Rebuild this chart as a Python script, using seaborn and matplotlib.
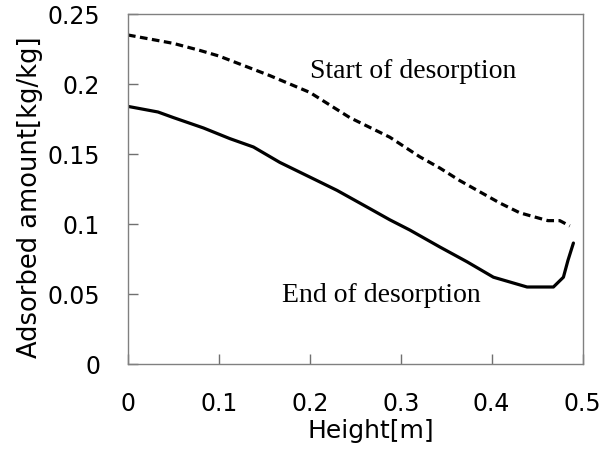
import matplotlib
matplotlib.use("Agg")
import matplotlib.pyplot as plt
import seaborn as sns
import pandas as pd

# Data
start_height = [0.0, 0.05, 0.079, 0.1, 0.156, 0.2, 0.244, 0.288, 0.321, 0.343,
                0.365, 0.387, 0.409, 0.431, 0.453, 0.462, 0.475, 0.486]
start_amount = [0.235, 0.229, 0.224, 0.220, 0.206, 0.194, 0.176, 0.162, 0.148, 0.140,
                0.131, 0.123, 0.115, 0.108, 0.104, 0.1024, 0.1024, 0.0986]

end_height = [0.0, 0.033, 0.05, 0.083, 0.112, 0.138, 0.167, 0.208, 0.23, 0.266,
              0.288, 0.310, 0.343, 0.373, 0.402, 0.439, 0.468, 0.479, 0.484, 0.490]
end_amount = [0.184, 0.180, 0.176, 0.1686, 0.161, 0.155, 0.144, 0.131, 0.124, 0.111,
              0.103, 0.0957, 0.0836, 0.073, 0.062, 0.055, 0.055, 0.062, 0.074, 0.0864]

x_ticks = [0, 0.1, 0.2, 0.3, 0.4, 0.5]
x_tick_labels = ["0", "0.1", "0.2", "0.3", "0.4", "0.5"]
y_ticks = [0, 0.05, 0.1, 0.15, 0.2, 0.25]
y_tick_labels = ["0", "0.05", "0.1", "0.15", "0.2", "0.25"]

start_label = "Start of desorption"
end_label = "End of desorption"
x_label = "Height[m]"
y_label = "Adsorbed amount[kg/kg]"

sns.set_theme(style="white")
plt.rcParams["font.family"] = ["DejaVu Sans"]

fig = plt.figure(figsize=(6.14, 4.5), dpi=100)
ax = fig.add_axes([128 / 614, 1 - 364 / 450, (582.5 - 128) / 614, (364 - 14) / 450])

df_start = pd.DataFrame({"h": start_height, "v": start_amount})
df_end = pd.DataFrame({"h": end_height, "v": end_amount})

sns.lineplot(data=df_start, x="h", y="v", ax=ax, color="black", linewidth=2.3,
             sort=False, estimator=None)
ax.lines[-1].set_dashes((2.4, 1.4))
sns.lineplot(data=df_end, x="h", y="v", ax=ax, color="black", linewidth=2.3,
             sort=False, estimator=None)

ax.set_xlim(0, 0.5)
ax.set_ylim(0, 0.25)
ax.set_xticks(x_ticks)
ax.set_xticklabels(x_tick_labels)
ax.set_yticks(y_ticks)
ax.set_yticklabels(y_tick_labels)

ax.tick_params(axis="both", direction="in", length=7.2, width=1.0, color="#707070",
               labelsize=17, labelcolor="black", bottom=True, left=True,
               top=False, right=False)
ax.tick_params(axis="y", pad=20)
ax.tick_params(axis="x", pad=20)

for sp in ax.spines.values():
    sp.set_visible(True)
    sp.set_color("#808080")
    sp.set_linewidth(1.0)

ax.set_xlabel(x_label, fontsize=18, color="black", va="center")
ax.set_ylabel(y_label, fontsize=18.5, color="black", va="center")
ax.xaxis.set_label_coords((371 - 128) / 454.5, (364 - 431) / 350)
ax.yaxis.set_label_coords((30 - 128) / 454.5, (364 - 197.5) / 350)

ax.text(0.200, 0.204, start_label, fontsize=20, family="Liberation Serif",
        ha="left", va="baseline", color="black")
ax.text(0.169, 0.0445, end_label, fontsize=20, family="Liberation Serif",
        ha="left", va="baseline", color="black")

ax.grid(False)
fig.savefig("out.png", dpi=100)
